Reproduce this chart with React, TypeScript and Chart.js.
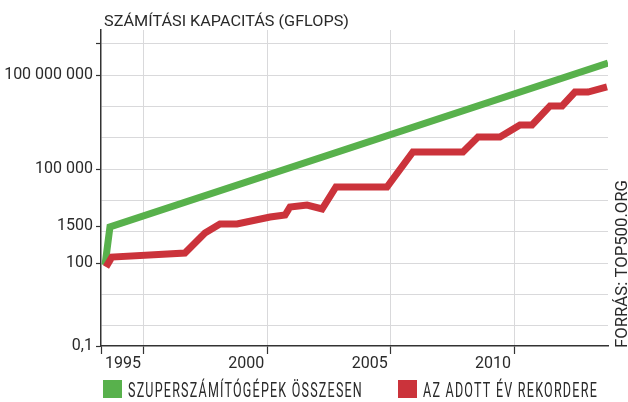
import React, { useEffect, useRef } from 'react';
import { Chart, registerables } from 'chart.js';

Chart.register(...registerables);

// ---- data (GFLOPS) ----
const totalYears = [1993.42, 1993.62, 2013.81];
const totalValues = [86, 1414, 2.45e8];

const recordYears = [
  1993.46, 1993.7, 1996.66, 1997.47, 1998.08, 1998.77, 2000.11, 2000.72, 2000.92,
  2001.61, 2002.22, 2002.78, 2004.85, 2005.9, 2007.93, 2008.54, 2009.43, 2010.24,
  2010.73, 2011.46, 2011.95, 2012.47, 2013.0, 2013.77,
];
const recordValues = [
  74, 155, 209, 907, 1760, 1760, 2950, 3420, 6150,
  7130, 5310, 26800, 26800, 351000, 351000, 1.06e6, 1.06e6, 2.56e6,
  2.56e6, 1.04e7, 1.04e7, 2.9e7, 2.9e7, 4.2e7,
];

const xMin = 1993.257;
const xMax = 2013.81;
const xTickYears = [1995, 2000, 2005, 2010];
const xTickLabels = ['1995', '2000', '2005', '2010'];

const yMin = 0.223;
const yMax = 2.78e9;
const yGridValues = [1, 10, 100, 1000, 1e4, 1e5, 1e6, 1e7, 1e8, 1e9];
const yLabelValues = [yMin, 100, 1500, 1e5, 1e8];
const yTickLabels = ['0,1', '100', '1500', '100 000', '100 000 000'];

const titleText = 'SZÁMÍTÁSI KAPACITÁS (GFLOPS)';
const sourceText = 'FORRÁS: TOP500.ORG';
const seriesNames = ['SZUPERSZÁMÍTÓGÉPEK ÖSSZESEN', 'AZ ADOTT ÉV REKORDERE'];

const GREEN = '#58b14c';
const RED = '#cb333b';
const GRID = '#d9d9db';
const INK = '#2a2a2a';

function fitText(
  ctx: CanvasRenderingContext2D,
  text: string,
  x: number,
  y: number,
  w: number,
  font: string,
  rotate = false,
  spacing = '0px'
) {
  ctx.save();
  ctx.font = font;
  (ctx as any).letterSpacing = spacing;
  ctx.fillStyle = INK;
  ctx.textAlign = 'left';
  ctx.textBaseline = 'alphabetic';
  const m = ctx.measureText(text).width;
  ctx.translate(x, y);
  if (rotate) ctx.rotate(-Math.PI / 2);
  ctx.scale(w / m, 1);
  ctx.fillText(text, 0, 0);
  ctx.restore();
}

const textPlugin = {
  id: 'texts',
  afterDraw(chart: any) {
    const ctx = chart.ctx as CanvasRenderingContext2D;
    fitText(ctx, titleText, 104, 26, 245, '400 15.5px Roboto');
    fitText(ctx, sourceText, 627, 348, 168, '400 17px Roboto', true);
    ctx.save();
    ctx.fillStyle = GREEN;
    ctx.fillRect(103, 380, 19, 18);
    ctx.fillStyle = RED;
    ctx.fillRect(398, 380, 19, 18);
    ctx.restore();
    fitText(ctx, seriesNames[0], 128, 397, 235, '400 20.5px Roboto', false, '2px');
    fitText(ctx, seriesNames[1], 423, 397, 175, '400 20.5px Roboto', false, '2px');
  },
};

export default function App() {
  const ref = useRef<HTMLCanvasElement | null>(null);

  useEffect(() => {
    document.body.style.margin = '0';
    const canvas = ref.current!;
    const chart = new Chart(canvas, {
      type: 'line',
      data: {
        datasets: [
          {
            label: seriesNames[1],
            data: recordYears.map((x, i) => ({ x, y: recordValues[i] })),
            borderColor: RED,
            borderWidth: 7,
            pointRadius: 0,
            tension: 0,
            order: 0,
          },
          {
            label: seriesNames[0],
            data: totalYears.map((x, i) => ({ x, y: totalValues[i] })),
            borderColor: GREEN,
            borderWidth: 7,
            pointRadius: 0,
            tension: 0,
            order: 1,
          },
        ],
      },
      options: {
        responsive: false,
        animation: false,
        layout: { padding: { top: 30, right: 20, left: 0, bottom: 0 } },
        plugins: { legend: { display: false }, title: { display: false }, tooltip: { enabled: false } },
        scales: {
          x: {
            type: 'linear',
            min: xMin,
            max: xMax,
            afterBuildTicks: (scale: any) => {
              scale.ticks = [{ value: xMin }, ...xTickYears.map((v) => ({ value: v }))];
            },
            afterFit: (scale: any) => {
              scale.height = 56;
            },
            border: { display: true, color: '#333', width: 1.5 },
            grid: {
              color: (c: any) => (c.tick && c.tick.value === xMin ? 'rgba(0,0,0,0)' : GRID),
              lineWidth: 1,
              tickColor: '#333',
              tickLength: 8,
              tickWidth: 1.2,
            },
            ticks: {
              autoSkip: false,
              maxRotation: 0,
              align: 'end',
              labelOffset: -3,
              padding: 0,
              color: INK,
              font: { family: 'Roboto', size: 16 },
              callback: (v: any) => {
                const i = xTickYears.indexOf(Number(v));
                return i >= 0 ? xTickLabels[i] : '';
              },
            },
          },
          y: {
            type: 'logarithmic',
            min: yMin,
            max: yMax,
            afterBuildTicks: (scale: any) => {
              const vals = Array.from(new Set([...yGridValues, ...yLabelValues])).sort((a, b) => a - b);
              scale.ticks = vals.map((v) => ({ value: v }));
            },
            afterFit: (scale: any) => {
              scale.width = 101;
            },
            border: { display: true, color: '#333', width: 1.5 },
            grid: {
              color: (c: any) => {
                const v = c.tick ? c.tick.value : null;
                return yGridValues.includes(v) ? GRID : 'rgba(0,0,0,0)';
              },
              lineWidth: 1,
              tickLength: 5,
              tickWidth: 1.2,
              tickColor: (c: any) => {
                const v = c.tick ? c.tick.value : null;
                return yLabelValues.includes(v) || v === 1e9 ? '#333' : 'rgba(0,0,0,0)';
              },
            },
            ticks: {
              autoSkip: false,
              padding: 3,
              color: INK,
              font: { family: 'Roboto', size: 16 },
              callback: (v: any) => {
                const i = yLabelValues.indexOf(Number(v));
                return i >= 0 ? yTickLabels[i] : '';
              },
            },
          },
        },
      },
      plugins: [textPlugin],
    } as any);
    return () => chart.destroy();
  }, []);

  return (
    <div style={{ position: 'fixed', left: 0, top: 0, width: 628, height: 402, background: '#fff' }}>
      <canvas ref={ref} width={628} height={402} style={{ display: 'block' }} />
    </div>
  );
}
